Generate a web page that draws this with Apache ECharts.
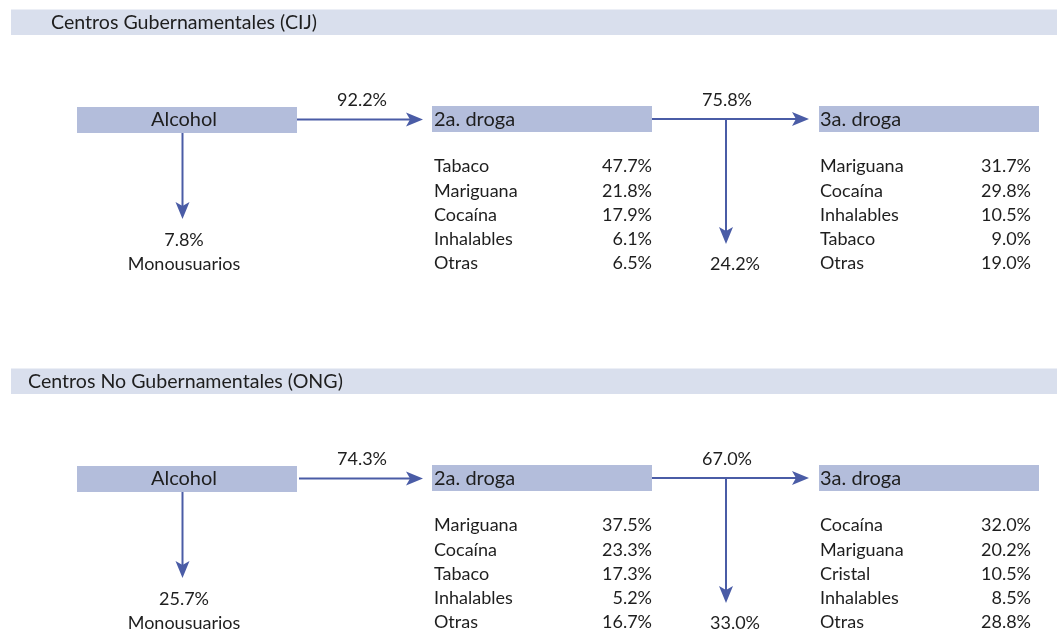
<!DOCTYPE html>
<html>
<head>
<meta charset="utf-8">
<script src="https://cdn.jsdelivr.net/npm/echarts@6/dist/echarts.min.js"></script>
<style>
  html, body { margin: 0; padding: 0; background: #fff; }
  #chart { width: 1057px; height: 640px; }
</style>
</head>
<body>
<div id="chart"></div>
<script>
// data
const sections = ["Centros Gubernamentales (CIJ)", "Centros No Gubernamentales (ONG)"]
const firstDrug = "Alcohol"
const secondTitle = "2a. droga"
const thirdTitle = "3a. droga"
const monoLabel = "Monousuarios"
const monoShare = [7.8, 25.7]
const toSecondShare = [92.2, 74.3]
const secondNames = [
	["Tabaco", "Mariguana", "Cocaína", "Inhalables", "Otras"],
	["Mariguana", "Cocaína", "Tabaco", "Inhalables", "Otras"],
]
const secondValues = [
	[47.7, 21.8, 17.9, 6.1, 6.5],
	[37.5, 23.3, 17.3, 5.2, 16.7],
]
const toThirdShare = [75.8, 67.0]
const stopAtSecondShare = [24.2, 33.0]
const thirdNames = [
	["Mariguana", "Cocaína", "Inhalables", "Tabaco", "Otras"],
	["Cocaína", "Mariguana", "Cristal", "Inhalables", "Otras"],
]
const thirdValues = [
	[31.7, 29.8, 10.5, 9.0, 19.0],
	[32.0, 20.2, 10.5, 8.5, 28.8],
]

// layout (px in a 1057 x 640 frame)
const offsetY = [0, 359]
const headerTextX = [51, 28]
const FONT = 'Lato, "Open Sans", sans-serif'
const arrowColor = "#4a5ca6"
const boxColor = "#b3bddb"
const headerColor = "#d9dfed"
const textColor = "#1e1e1e"

const pct = (v) => v.toFixed(1) + "%"

const chart = echarts.init(document.getElementById("chart"))

const renderItem = (params, api) => {
	const i = params.dataIndex
	const off = offsetY[i]
	const P = (x, y) => api.coord([x, y + off])
	const children = []

	const rect = (x0, y0, x1, y1, fill) => {
		const a = P(x0, y0)
		const b = P(x1, y1)
		children.push({
			type: "rect",
			shape: { x: a[0], y: a[1], width: b[0] - a[0], height: b[1] - a[1] },
			style: { fill: fill },
		})
	}
	const text = (str, x, y, align, size, weight) => {
		const p = P(x, y)
		children.push({
			type: "text",
			x: p[0],
			y: p[1],
			style: {
				text: str,
				fill: textColor,
				font: (weight || "normal") + " " + (size || 18) + "px " + FONT,
				align: align || "left",
				verticalAlign: "middle",
			},
		})
	}
	const arrow = (x0, y0, x1, y1) => {
		const a = P(x0, y0)
		const b = P(x1, y1)
		const dx = b[0] - a[0]
		const dy = b[1] - a[1]
		const len = Math.sqrt(dx * dx + dy * dy)
		const ux = dx / len
		const uy = dy / len
		const L = 17, Wd = 7, N = 4
		children.push({
			type: "line",
			shape: { x1: a[0], y1: a[1], x2: b[0] - ux * L * 0.6, y2: b[1] - uy * L * 0.6 },
			style: { stroke: arrowColor, lineWidth: 2 },
		})
		children.push({
			type: "polygon",
			shape: {
				points: [
					[b[0], b[1]],
					[b[0] - ux * L - uy * Wd, b[1] - uy * L + ux * Wd],
					[b[0] - ux * (L - N), b[1] - uy * (L - N)],
					[b[0] - ux * L + uy * Wd, b[1] - uy * L - ux * Wd],
				],
			},
			style: { fill: arrowColor },
		})
	}

	// header band
	rect(11, 9.5, 1057, 35, headerColor)
	text(sections[i], headerTextX[i], 22.5, "left", 19.6)

	// boxes
	rect(77, 107, 297, 133, boxColor)
	rect(432, 106, 652, 132, boxColor)
	rect(819, 106, 1039, 132, boxColor)
	text(firstDrug, 184, 119.5, "center", 20)
	text(secondTitle, 434, 119.5, "left", 20)
	text(thirdTitle, 820, 119.5, "left", 20)

	// arrows
	arrow(297 + i * 2, 119.5, 423, 119.5)
	text(pct(toSecondShare[i]), 362, 100, "center")
	arrow(182.5, 133, 182.5, 219)
	text(pct(monoShare[i]), 184, 240, "center")
	text(monoLabel, 184, 264, "center")

	arrow(652, 119, 809, 119)
	text(pct(toThirdShare[i]), 727, 100, "center")
	arrow(726, 119, 726, 244)
	text(pct(stopAtSecondShare[i]), 735, 264, "center")

	// lists
	secondNames[i].forEach((n, k) => {
		const y = 166.5 + k * 24.2
		text(n, 434, y, "left")
		text(pct(secondValues[i][k]), 652, y, "right")
	})
	thirdNames[i].forEach((n, k) => {
		const y = 166.5 + k * 24.2
		text(n, 820, y, "left")
		text(pct(thirdValues[i][k]), 1031, y, "right")
	})

	return { type: "group", children: children }
}

chart.setOption({
	animation: false,
	grid: { left: 0, right: 0, top: 0, bottom: 0 },
	xAxis: { type: "value", min: 0, max: 1057, show: false },
	yAxis: { type: "value", min: 0, max: 640, inverse: true, show: false },
	series: [
		{
			type: "custom",
			coordinateSystem: "cartesian2d",
			renderItem: renderItem,
			clip: false,
			data: sections.map((s, i) => [i, offsetY[i]]),
		},
	],
})

window.addEventListener("resize", () => chart.resize())
</script>
</body>
</html>
